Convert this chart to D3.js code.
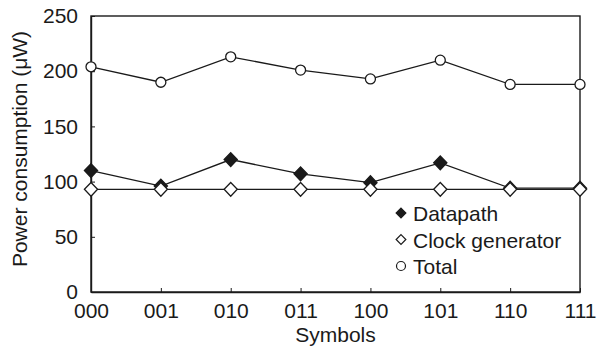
<!DOCTYPE html>
<html>
<head>
<meta charset="utf-8">
<script src="https://d3js.org/d3.v7.min.js"></script>
<style>
  body { margin: 0; background: #fff; }
  text { font-family: "Liberation Sans", Arial, sans-serif; fill: #1a1a1a; }
  .line { fill: none; stroke: #1a1a1a; stroke-width: 1.3px; }
</style>
</head>
<body>
<div id="chart"></div>
<script>
// data
var symbols = ["000", "001", "010", "011", "100", "101", "110", "111"];
var datapath = [110, 96, 120, 107, 99, 117, 94, 94];
var clockGen = [93, 93, 93, 93, 93, 93, 93, 93];
var total = [204, 190, 213, 201, 193, 210, 188, 188];
var yTicks = [0, 50, 100, 150, 200, 250];
var seriesNames = ["Datapath", "Clock generator", "Total"];

var margin = {top: 16, right: 20, bottom: 57, left: 91},
    width = 600 - margin.left - margin.right,
    height = 349 - margin.top - margin.bottom;

var svg = d3.select("#chart").append("svg")
    .attr("width", 600)
    .attr("height", 349)
  .append("g")
    .attr("transform", "translate(" + margin.left + "," + margin.top + ")");

var x = d3.scalePoint().domain(symbols).range([0, width]).padding(0);
var y = d3.scaleLinear().domain([0, 250]).range([height, 0]);

// frame
svg.append("rect")
    .attr("width", width).attr("height", height)
    .attr("fill", "none").attr("stroke", "#1a1a1a").attr("stroke-width", 1.4);

var xAxis = svg.append("g")
    .attr("transform", "translate(0," + height + ")")
    .call(d3.axisBottom(x).tickSizeInner(-4).tickSizeOuter(0).tickPadding(11));
var yAxis = svg.append("g")
    .call(d3.axisLeft(y).tickValues(yTicks).tickSizeInner(-4).tickSizeOuter(0).tickPadding(13));

[xAxis, yAxis].forEach(function(a) {
  a.select(".domain").attr("stroke", "#1a1a1a").attr("stroke-width", 1.4);
  a.selectAll(".tick line").attr("stroke", "#1a1a1a");
  a.selectAll("text").attr("font-size", 21).attr("font-family", "Liberation Sans, Arial, sans-serif").attr("fill", "#1a1a1a");
});

// axis titles
svg.append("text")
    .attr("x", width / 2).attr("y", height + 50)
    .attr("text-anchor", "middle").attr("font-size", 21)
    .text("Symbols");
svg.append("text")
    .attr("transform", "translate(" + (-64) + "," + (height / 2 - 5) + ") rotate(-90)")
    .attr("text-anchor", "middle").attr("font-size", 21)
    .text("Power consumption (\u03bcW)");

var line = d3.line()
    .x(function(d, i) { return x(symbols[i]); })
    .y(function(d) { return y(d); });

var diamond = d3.symbol().type(d3.symbolDiamond2);

function drawSeries(vals, kind) {
  svg.append("path").datum(vals).attr("class", "line").attr("d", line);
  var pts = svg.append("g").selectAll("path").data(vals).enter();
  if (kind === "circle") {
    pts.append("circle")
      .attr("cx", function(d, i) { return x(symbols[i]); })
      .attr("cy", function(d) { return y(d); })
      .attr("r", 5)
      .attr("fill", "#fff").attr("stroke", "#1a1a1a").attr("stroke-width", 1.3);
  } else {
    pts.append("path")
      .attr("d", diamond.size(110))
      .attr("transform", function(d, i) { return "translate(" + x(symbols[i]) + "," + y(d) + ") scale(1,1.05)"; })
      .attr("fill", kind === "filled" ? "#1a1a1a" : "#fff")
      .attr("stroke", "#1a1a1a").attr("stroke-width", 1.3);
  }
}

drawSeries(datapath, "filled");
drawSeries(clockGen, "open");
drawSeries(total, "circle");

// legend
var legend = svg.append("g").attr("transform", "translate(310,197)");
var kinds = ["filled", "open", "circle"];
seriesNames.forEach(function(name, i) {
  var g = legend.append("g").attr("transform", "translate(0," + (i * 26.5) + ")");
  if (kinds[i] === "circle") {
    g.append("circle").attr("r", 4.5)
      .attr("fill", "#fff").attr("stroke", "#1a1a1a").attr("stroke-width", 1.2);
  } else {
    g.append("path").attr("d", d3.symbol().type(d3.symbolDiamond2).size(60)())
      .attr("fill", kinds[i] === "filled" ? "#1a1a1a" : "#fff")
      .attr("stroke", "#1a1a1a").attr("stroke-width", 1.2);
  }
  g.append("text").attr("x", 12).attr("y", 8)
    .attr("font-size", 21).text(name);
});
</script>
</body>
</html>
